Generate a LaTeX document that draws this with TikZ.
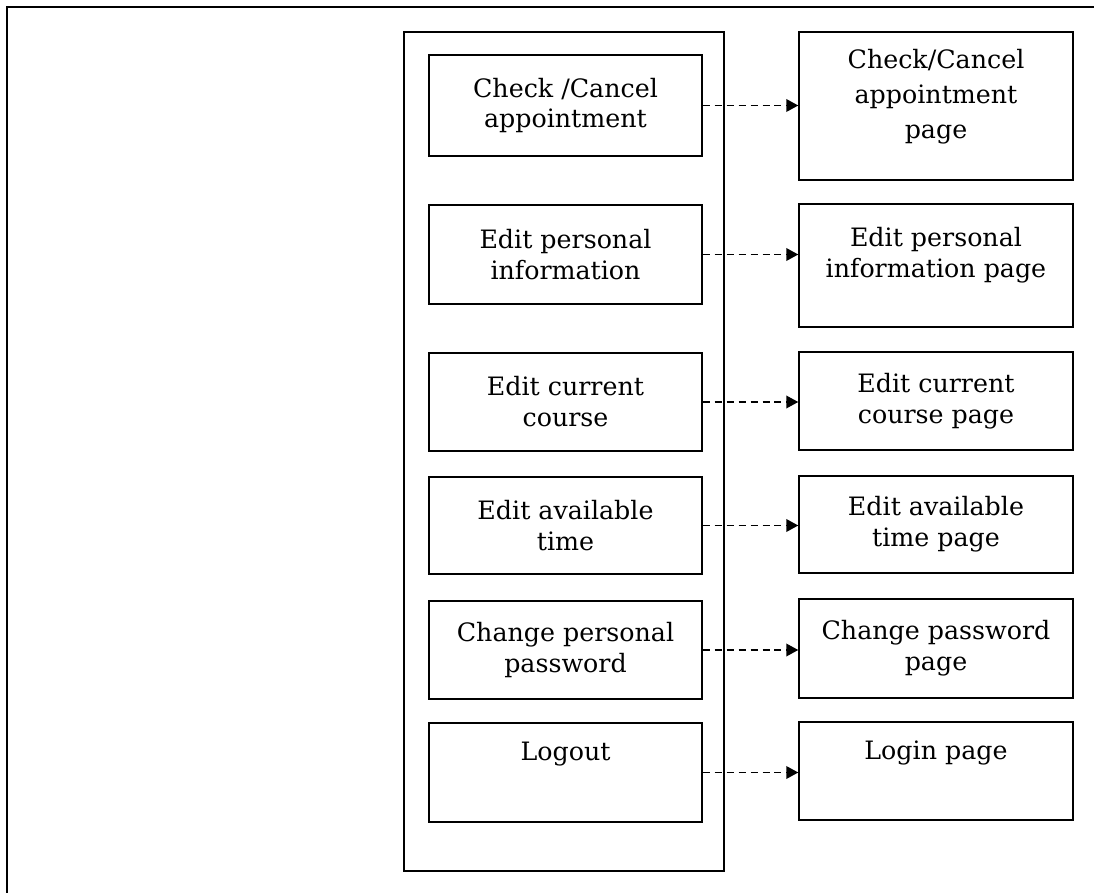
\documentclass[tikz,border=0pt]{standalone}
\usepackage{fontspec}
\setmainfont{DejaVu Serif}
\usepackage{tikz}
\usetikzlibrary{positioning,arrows.meta}
\tikzset{>={Triangle[length=8.5pt,width=9pt]}}
\tikzset{
  menubox/.style={draw,line width=1pt,minimum width=6.825cm,minimum height=2.475cm,
    inner sep=0pt,align=center,font=\fontsize{18}{22}\selectfont},
  pagebox/.style={menubox,minimum width=6.85cm},
  link/.style={->,dash pattern=on 5pt off 3.5pt,line width=1pt}
}

\begin{document}
\begin{tikzpicture}[x=0.025cm,y=-0.025cm]
\useasboundingbox (0,0) rectangle (1094,893);
\draw[line width=1.4pt] (7,893) -- (7,7) -- (1094,7);
\draw[line width=0.9pt] (404,32) rectangle (724,871);
% menu entries
\node[menubox,minimum height=2.525cm] (c1) at (565.5,105.5) {Check /Cancel\\appointment};
\node[menubox] (c2) at (565.5,254.5) {Edit personal\\information};
\node[menubox,minimum height=2.45cm] (c3) at (565.5,402) {Edit current\\course};
\node[menubox,minimum height=2.425cm] (c4) at (565.5,525.5) {Edit available\\time};
\node[menubox,minimum height=2.45cm] (c5) at (565.5,650) {Change personal\\password};
\node[menubox] (c6) at (565.5,772.5) {Logout\\[8pt]~};
% pages
\node[pagebox,minimum height=3.7cm] (p1) at (936,106) {Check/Cancel\\[3pt]appointment\\[3pt]page\\[-5pt]~};
\node[pagebox,minimum height=3.075cm] (p2) at (936,265.5) {Edit personal\\information page\\[-3pt]~};
\node[pagebox,minimum height=2.45cm] (p3) at (936,401) {Edit current\\course page};
\node[pagebox,minimum height=2.425cm] (p4) at (936,524.5) {Edit available\\time page};
\node[pagebox] (p5) at (936,648.5) {Change password\\page};
\node[pagebox,minimum height=2.45cm] (p6) at (936,771) {Login page\\[8pt]~};
\draw[link] (c1.east) -- (c1.east -| p1.west);
\draw[link] (c2.east) -- (c2.east -| p2.west);
\draw[link] (c3.east) -- (c3.east -| p3.west);
\draw[link] (c4.east) -- (c4.east -| p4.west);
\draw[link] (c5.east) -- (c5.east -| p5.west);
\draw[link] (c6.east) -- (c6.east -| p6.west);
\end{tikzpicture}
\end{document}
